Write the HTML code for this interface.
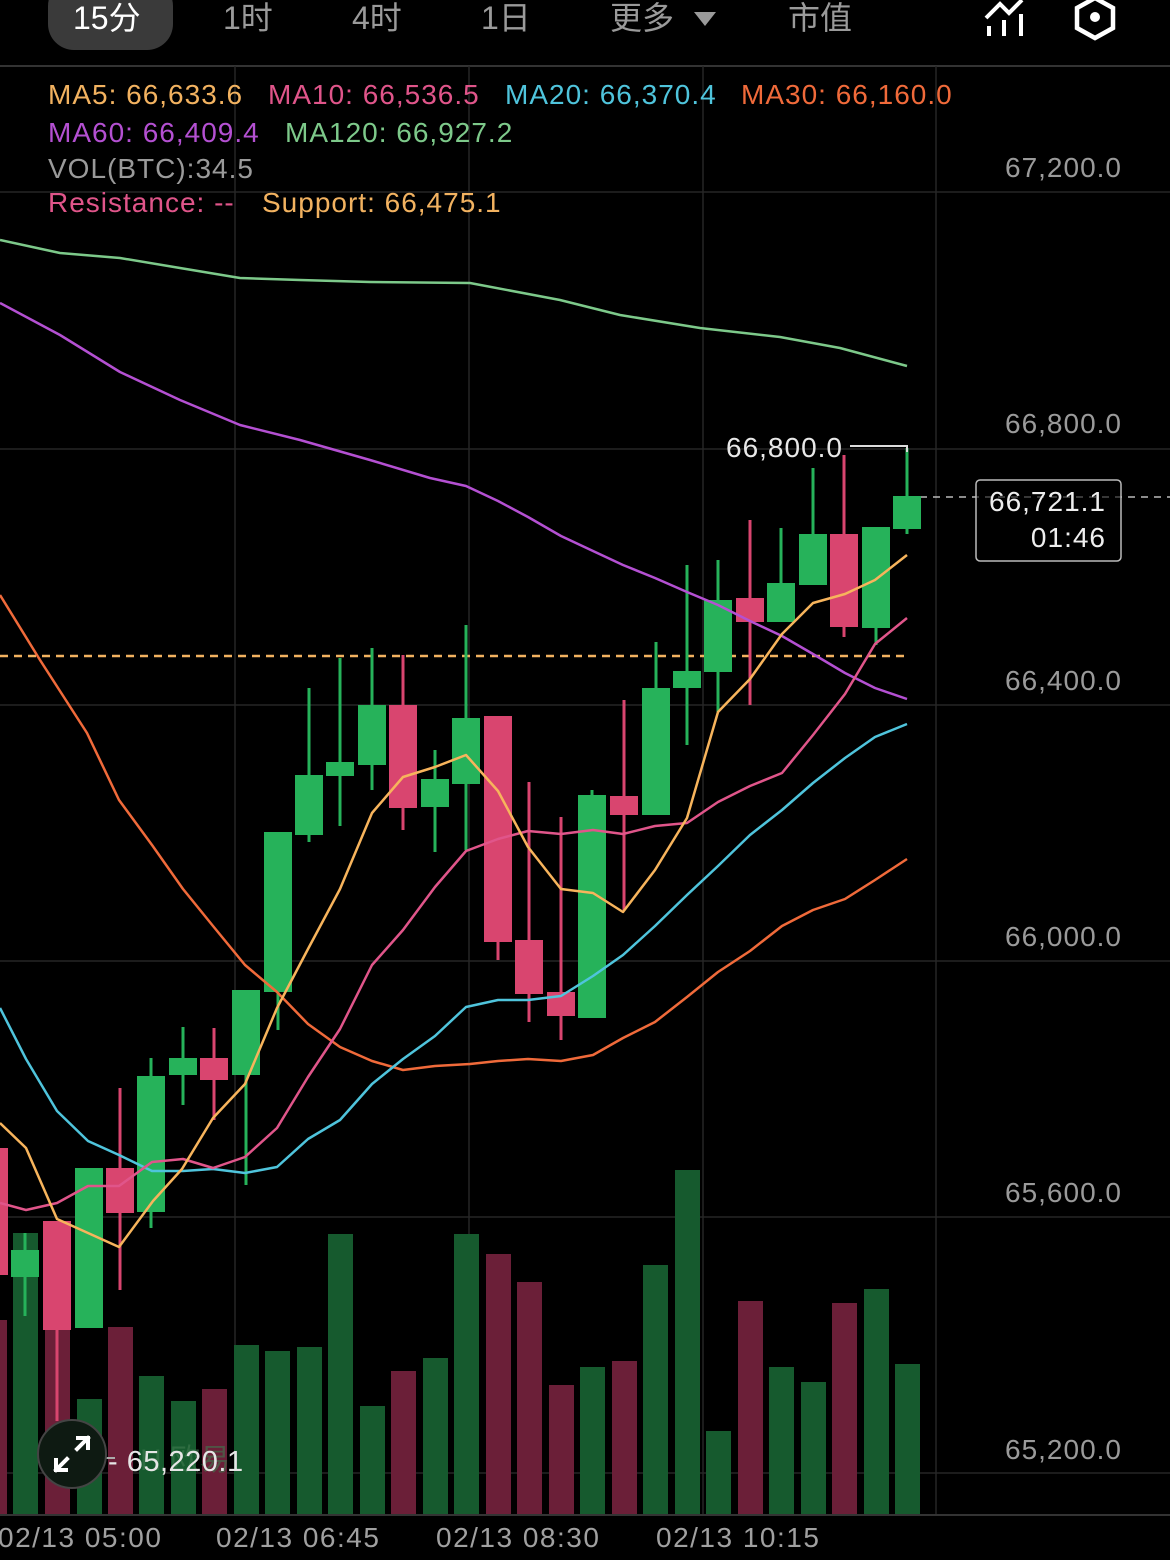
<!DOCTYPE html>
<html><head><meta charset="utf-8"><style>
html,body{margin:0;padding:0;background:#000;}
body{width:1170px;height:1560px;overflow:hidden;position:relative;}
svg{position:absolute;left:0;top:0;}
text{font-family:"Liberation Sans","Noto Sans CJK SC",sans-serif;}
</style></head><body>
<svg width="1170" height="1560" viewBox="0 0 1170 1560" xmlns="http://www.w3.org/2000/svg">
<rect width="1170" height="1560" fill="#000"/>
<rect x="48" y="-20" width="125" height="70" rx="26" fill="#3a3a3a"/>
<g font-size="32" fill="#9a9a9a">
<text x="73" y="29" fill="#fff">15分</text>
<text x="223" y="29">1时</text>
<text x="352" y="29">4时</text>
<text x="481" y="29">1日</text>
<text x="610" y="29">更多</text>
<text x="788" y="29">市值</text>
</g>
<path d="M694 12 L716 12 L705 26 Z" fill="#9a9a9a"/>
<g stroke="#fff" stroke-width="4" fill="none">
<path d="M986 18 L1000 4 L1009 13 L1022 0"/>
<path d="M989 26 V36 M1004 20 V36 M1021 14 V36"/>
<path d="M1095 -2 L1113 8 L1113 28 L1095 38 L1077 28 L1077 8 Z" stroke-width="4.5"/>
</g>
<circle cx="1095" cy="17" r="5" fill="#fff"/>
<line x1="0" y1="66" x2="1170" y2="66" stroke="#333" stroke-width="2"/>
<g stroke="#262626" stroke-width="1.5">
<line x1="0" y1="192" x2="1170" y2="192"/>
<line x1="0" y1="449" x2="1170" y2="449"/>
<line x1="0" y1="705" x2="1170" y2="705"/>
<line x1="0" y1="961" x2="1170" y2="961"/>
<line x1="0" y1="1217" x2="1170" y2="1217"/>
<line x1="0" y1="1473" x2="1170" y2="1473"/>
<line x1="235" y1="66" x2="235" y2="1515"/>
<line x1="469" y1="66" x2="469" y2="1515"/>
<line x1="703" y1="66" x2="703" y2="1515"/>
<line x1="936" y1="66" x2="936" y2="1515"/>
</g>
<g>
<rect x="-18" y="1320" width="25" height="195" fill="#6b1f38"/>
<rect x="13" y="1233" width="25" height="282" fill="#165a2e"/>
<rect x="45" y="1327" width="25" height="188" fill="#6b1f38"/>
<rect x="77" y="1399" width="25" height="116" fill="#165a2e"/>
<rect x="108" y="1327" width="25" height="188" fill="#6b1f38"/>
<rect x="139" y="1376" width="25" height="139" fill="#165a2e"/>
<rect x="171" y="1401" width="25" height="114" fill="#165a2e"/>
<rect x="202" y="1389" width="25" height="126" fill="#6b1f38"/>
<rect x="234" y="1345" width="25" height="170" fill="#165a2e"/>
<rect x="265" y="1351" width="25" height="164" fill="#165a2e"/>
<rect x="297" y="1347" width="25" height="168" fill="#165a2e"/>
<rect x="328" y="1234" width="25" height="281" fill="#165a2e"/>
<rect x="360" y="1406" width="25" height="109" fill="#165a2e"/>
<rect x="391" y="1371" width="25" height="144" fill="#6b1f38"/>
<rect x="423" y="1358" width="25" height="157" fill="#165a2e"/>
<rect x="454" y="1234" width="25" height="281" fill="#165a2e"/>
<rect x="486" y="1254" width="25" height="261" fill="#6b1f38"/>
<rect x="517" y="1282" width="25" height="233" fill="#6b1f38"/>
<rect x="549" y="1385" width="25" height="130" fill="#6b1f38"/>
<rect x="580" y="1367" width="25" height="148" fill="#165a2e"/>
<rect x="612" y="1361" width="25" height="154" fill="#6b1f38"/>
<rect x="643" y="1265" width="25" height="250" fill="#165a2e"/>
<rect x="675" y="1170" width="25" height="345" fill="#165a2e"/>
<rect x="706" y="1431" width="25" height="84" fill="#165a2e"/>
<rect x="738" y="1301" width="25" height="214" fill="#6b1f38"/>
<rect x="769" y="1367" width="25" height="148" fill="#165a2e"/>
<rect x="801" y="1382" width="25" height="133" fill="#165a2e"/>
<rect x="832" y="1303" width="25" height="212" fill="#6b1f38"/>
<rect x="864" y="1289" width="25" height="226" fill="#165a2e"/>
<rect x="895" y="1364" width="25" height="151" fill="#165a2e"/>
</g>
<line x1="0" y1="1515" x2="1170" y2="1515" stroke="#333" stroke-width="2"/>
<line x1="0" y1="656" x2="905" y2="656" stroke="#f2b260" stroke-width="2.5" stroke-dasharray="8,6"/>
<line x1="920" y1="497" x2="1170" y2="497" stroke="#bbb" stroke-width="1.5" stroke-dasharray="7,6"/>
<g>
<g fill="#d9456f">
<rect x="-20" y="1148" width="28" height="127"/>
<rect x="55.5" y="1221" width="3" height="200"/><rect x="43" y="1221" width="28" height="109"/>
<rect x="118.5" y="1088" width="3" height="202"/><rect x="106" y="1168" width="28" height="45"/>
<rect x="212.5" y="1028" width="3" height="92"/><rect x="200" y="1058" width="28" height="22"/>
<rect x="401.5" y="655" width="3" height="175"/><rect x="389" y="705" width="28" height="103"/>
<rect x="496.5" y="716" width="3" height="244"/><rect x="484" y="716" width="28" height="226"/>
<rect x="527.5" y="782" width="3" height="240"/><rect x="515" y="940" width="28" height="54"/>
<rect x="559.5" y="817" width="3" height="223"/><rect x="547" y="992" width="28" height="24"/>
<rect x="622.5" y="700" width="3" height="210"/><rect x="610" y="796" width="28" height="19"/>
<rect x="748.5" y="520" width="3" height="185"/><rect x="736" y="598" width="28" height="24"/>
<rect x="842.5" y="455" width="3" height="182"/><rect x="830" y="534" width="28" height="93"/>
</g>
<g fill="#26b25a">
<rect x="23.5" y="1233" width="3" height="83"/><rect x="11" y="1250" width="28" height="27"/>
<rect x="75" y="1168" width="28" height="160"/>
<rect x="149.5" y="1058" width="3" height="170"/><rect x="137" y="1076" width="28" height="136"/>
<rect x="181.5" y="1027" width="3" height="78"/><rect x="169" y="1058" width="28" height="17"/>
<rect x="244.5" y="990" width="3" height="195"/><rect x="232" y="990" width="28" height="85"/>
<rect x="276.5" y="832" width="3" height="198"/><rect x="264" y="832" width="28" height="160"/>
<rect x="307.5" y="688" width="3" height="154"/><rect x="295" y="775" width="28" height="60"/>
<rect x="338.5" y="658" width="3" height="168"/><rect x="326" y="762" width="28" height="14"/>
<rect x="370.5" y="648" width="3" height="142"/><rect x="358" y="705" width="28" height="60"/>
<rect x="433.5" y="750" width="3" height="102"/><rect x="421" y="779" width="28" height="28"/>
<rect x="464.5" y="625" width="3" height="225"/><rect x="452" y="718" width="28" height="66"/>
<rect x="590.5" y="790" width="3" height="228"/><rect x="578" y="795" width="28" height="223"/>
<rect x="654.5" y="642" width="3" height="173"/><rect x="642" y="688" width="28" height="127"/>
<rect x="685.5" y="565" width="3" height="180"/><rect x="673" y="671" width="28" height="17"/>
<rect x="716.5" y="560" width="3" height="152"/><rect x="704" y="600" width="28" height="72"/>
<rect x="779.5" y="528" width="3" height="92"/><rect x="767" y="583" width="28" height="39"/>
<rect x="811.5" y="468" width="3" height="107"/><rect x="799" y="534" width="28" height="51"/>
<rect x="874.5" y="527" width="3" height="118"/><rect x="862" y="527" width="28" height="101"/>
<rect x="905.5" y="448" width="3" height="86"/><rect x="893" y="496" width="28" height="33"/>
</g>
</g>
<g fill="none" stroke-width="2.5" stroke-linejoin="round">
<polyline stroke="#7dc98a" points="0,240 60,253 120,258 180,268 240,278 300,280 370,282 470,283 560,300 620,315 700,328 780,337 840,348 907,366"/>
<polyline stroke="#b450d2" points="0,303 60,335 120,372 180,400 240,425 300,440 370,460 430,478 466,486 498,501 528,517 561,536 593,551 623,565 655,578 687,592 718,605 750,621 782,636 813,654 845,673 875,688 907,699"/>
<polyline stroke="#f06a3a" points="0,595 40,660 87,733 119,800 152,845 183,889 213,926 245,965 277,992 308,1024 340,1047 372,1061 403,1070 435,1066 470,1064 498,1061 528,1059 561,1061 593,1055 623,1038 655,1022 687,997 718,972 750,951 782,926 813,910 845,899 875,880 907,859"/>
<polyline stroke="#4fc4dc" points="0,1008 26,1059 57,1111 88,1141 119,1155 152,1171 183,1171 213,1169 245,1173 277,1167 308,1139 340,1120 372,1084 403,1059 435,1036 466,1007 498,1000 528,1000 561,996 593,976 623,955 655,926 687,895 718,866 750,835 782,810 813,783 845,758 875,737 907,724"/>
<polyline stroke="#e0558a" points="0,1203 26,1210 57,1203 88,1186 119,1186 152,1162 183,1159 213,1168 245,1157 277,1128 308,1077 340,1029 372,965 403,930 435,887 466,851 498,839 528,831 561,834 593,830 623,834 655,826 687,823 718,802 750,786 782,773 813,735 845,694 875,644 907,618"/>
<polyline stroke="#f7b45c" points="0,1123 26,1148 57,1219 119,1247 153,1201 182,1169 213,1118 245,1084 277,1008 308,949 340,889 372,813 403,777 435,767 466,755 498,791 528,847 561,889 593,893 623,912 655,870 687,818 718,712 750,679 782,634 813,603 845,594 875,580 907,555"/>
</g>
<text x="726" y="457" font-size="28" letter-spacing="1" fill="#e8e8e8">66,800.0</text>
<polyline points="850,446 907,446 907,452" fill="none" stroke="#ddd" stroke-width="2"/>
<rect x="976" y="480" width="145" height="81" rx="4" fill="rgba(0,0,0,0.6)" stroke="#bbb" stroke-width="1.5"/>
<text x="1106" y="511" font-size="28" letter-spacing="1" fill="#eee" text-anchor="end">66,721.1</text>
<text x="1106" y="547" font-size="28" letter-spacing="1" fill="#eee" text-anchor="end">01:46</text>
<g font-size="28" letter-spacing="1" fill="#9a9a9a" text-anchor="end">
<text x="1122" y="177">67,200.0</text>
<text x="1122" y="433">66,800.0</text>
<text x="1122" y="690">66,400.0</text>
<text x="1122" y="946">66,000.0</text>
<text x="1122" y="1202">65,600.0</text>
<text x="1122" y="1459">65,200.0</text>
</g>
<g font-size="28" letter-spacing="1">
<text x="48" y="104" fill="#f2b260">MA5: 66,633.6</text>
<text x="268" y="104" fill="#e0558a">MA10: 66,536.5</text>
<text x="505" y="104" fill="#4fc4dc">MA20: 66,370.4</text>
<text x="741" y="104" fill="#f06a3a">MA30: 66,160.0</text>
<text x="48" y="142" fill="#b450d2">MA60: 66,409.4</text>
<text x="285" y="142" fill="#7dc98a">MA120: 66,927.2</text>
<text x="48" y="178" fill="#9a9a9a">VOL(BTC):34.5</text>
<text x="48" y="212" fill="#e0558a">Resistance: --</text>
<text x="262" y="212" fill="#f2b260">Support: 66,475.1</text>
</g>
<text x="140" y="1470" font-size="30" fill="#3e7a4e" opacity="0.6">H 欧易</text>
<line x1="72" y1="1458" x2="115" y2="1458" stroke="#aaa" stroke-width="2"/>
<text x="108" y="1471" font-size="29" letter-spacing="0.5" fill="#e6e6e6">- 65,220.1</text>
<circle cx="72" cy="1454" r="34" fill="#0e1a12" stroke="#444" stroke-width="2"/>
<g stroke="#fff" stroke-width="4" fill="none" stroke-linecap="square">
<path d="M77 1449 L88 1438 M78 1438 H88 V1448"/>
<path d="M67 1459 L56 1470 M56 1460 V1470 H66"/>
</g>
<g font-size="28" letter-spacing="1.5" fill="#a0a0a0">
<text x="-2" y="1547">02/13 05:00</text>
<text x="216" y="1547">02/13 06:45</text>
<text x="436" y="1547">02/13 08:30</text>
<text x="656" y="1547">02/13 10:15</text>
</g>
</svg>
</body></html>
